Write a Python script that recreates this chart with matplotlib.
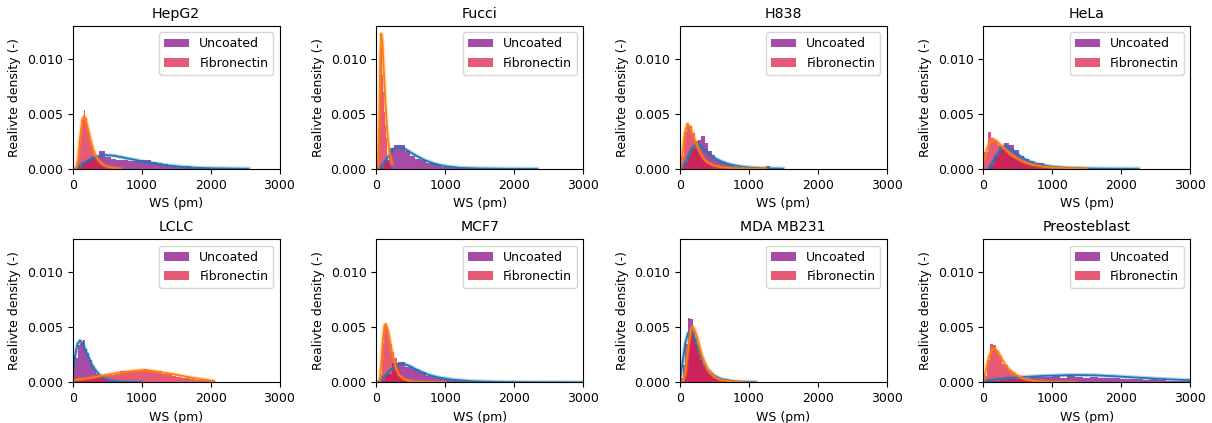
import numpy as np
import matplotlib
matplotlib.use('Agg')
from matplotlib import pyplot as plt

# cell lines, in plotting order
cells = ['HepG2', 'Fucci', 'H838', 'HeLa', 'LCLC', 'MCF7', 'MDA MB231', 'Preosteblast']

# data range (min, max WS in pm) of each histogram, 30 bins over it
unc_range = {'HepG2': (50, 2550), 'Fucci': (30, 2335), 'H838': (15, 1500), 'HeLa': (78, 2250),
             'LCLC': (10, 1000), 'MCF7': (24, 3000), 'MDA MB231': (5, 1107), 'Preosteblast': (15, 3300)}
fib_range = {'HepG2': (50, 710), 'Fucci': (20, 230), 'H838': (15, 1250), 'HeLa': (10, 1500),
             'LCLC': (0, 2050), 'MCF7': (48, 975), 'MDA MB231': (40, 960), 'Preosteblast': (5, 1350)}

# histogram densities (30 bins)
unc_hist = {
    'HepG2': [0.00015, 0.0006, 0.0009, 0.0011, 0.0016, 0.0011, 0.0009, 0.00085, 0.0008, 0.0007,
              0.0007, 0.00085, 0.0008, 0.0006, 0.0005, 0.00042, 0.00035, 0.00022, 0.0002, 0.00027,
              0.0001, 0.00008, 0.00006, 0.00005, 0.00003, 0.00003, 0.00002, 0.00002, 0.0, 0.00002],
    'Fucci': [0.0002, 0.0008, 0.0019, 0.0022, 0.0022, 0.0016, 0.0012, 0.0009, 0.0008, 0.0005,
              0.0005, 0.0004, 0.0002, 0.00015, 0.0001, 0.00008, 0.00006, 0.00005, 0.00004, 0.00003,
              0.00002, 0.00002, 0.00002, 0.00001, 0.00001, 0.0, 0.00001, 0.0, 0.0, 0.00001],
    'H838': [0.0002, 0.0006, 0.0012, 0.0018, 0.0022, 0.0026, 0.0030, 0.0024, 0.0016, 0.0013,
             0.0009, 0.0007, 0.0006, 0.0005, 0.0004, 0.0003, 0.0002, 0.0003, 0.0001, 0.0001,
             0.00005, 0.00005, 0.0, 0.00003, 0.0, 0.00027, 0.0, 0.0, 0.0, 0.00003],
    'HeLa': [0.0004, 0.0012, 0.0020, 0.0024, 0.0022, 0.0017, 0.0012, 0.0009, 0.0007, 0.0005,
             0.0005, 0.0004, 0.0002, 0.0002, 0.00015, 0.0001, 0.0001, 0.00008, 0.00005, 0.00004,
             0.00003, 0.00002, 0.00002, 0.00001, 0.00001, 0.0, 0.00001, 0.0, 0.0, 0.00001],
    'LCLC': [0.0025, 0.0022, 0.0034, 0.0036, 0.0039, 0.0030, 0.0027, 0.0020, 0.0015, 0.0011,
             0.0008, 0.0006, 0.0005, 0.0004, 0.0003, 0.0002, 0.0002, 0.00015, 0.0001, 0.0001,
             0.00008, 0.00006, 0.00005, 0.00004, 0.00003, 0.00003, 0.00002, 0.00002, 0.00001, 0.00001],
    'MCF7': [0.0002, 0.0008, 0.0018, 0.0019, 0.0014, 0.0012, 0.0009, 0.0006, 0.0005, 0.0004,
             0.0003, 0.00025, 0.0002, 0.00015, 0.0001, 0.0001, 0.00006, 0.00005, 0.00004, 0.00003,
             0.00002, 0.00002, 0.00001, 0.00001, 0.00001, 0.0, 0.0, 0.0, 0.0, 0.00001],
    'MDA MB231': [0.0004, 0.0016, 0.0035, 0.0059, 0.0058, 0.0045, 0.0035, 0.0026, 0.0020, 0.0015,
                  0.0011, 0.0008, 0.0006, 0.0005, 0.0004, 0.0003, 0.0002, 0.00015, 0.0001, 0.0001,
                  0.00008, 0.00006, 0.00005, 0.00004, 0.00003, 0.00002, 0.00002, 0.00001, 0.00001, 0.00001],
    'Preosteblast': [0.0001, 0.00015, 0.00025, 0.0003, 0.00035, 0.0004, 0.00045, 0.0005, 0.0005, 0.00055,
                     0.0004, 0.0006, 0.0005, 0.0004, 0.0005, 0.0004, 0.0004, 0.0004, 0.00035, 0.0003,
                     0.0003, 0.00025, 0.0003, 0.00025, 0.00015, 0.00015, 0.00015, 0.0001, 0.0001, 0.0001],
}
fib_hist = {
    'HepG2': [0.0003, 0.0012, 0.0026, 0.0038, 0.0045, 0.0054, 0.0046, 0.0040, 0.0034, 0.0027,
              0.0021, 0.0016, 0.0012, 0.0009, 0.0007, 0.0005, 0.0004, 0.0003, 0.00025, 0.0002,
              0.00015, 0.0001, 0.0001, 0.00008, 0.00006, 0.00005, 0.00004, 0.00003, 0.00002, 0.00002],
    'Fucci': [0.0005, 0.0015, 0.003, 0.0055, 0.0075, 0.0085, 0.0090, 0.0110, 0.0100, 0.0095,
              0.0085, 0.0080, 0.0070, 0.0060, 0.0052, 0.0045, 0.0040, 0.0032, 0.0028, 0.0022,
              0.0010, 0.0008, 0.0006, 0.0005, 0.0004, 0.0003, 0.0003, 0.0002, 0.0002, 0.0001],
    'H838': [0.0012, 0.0034, 0.0040, 0.0039, 0.0033, 0.0025, 0.0018, 0.0012, 0.0009, 0.0007,
             0.0005, 0.0004, 0.0003, 0.00025, 0.0002, 0.00015, 0.0001, 0.0001, 0.00008, 0.00006,
             0.00005, 0.00004, 0.00003, 0.00003, 0.00002, 0.00002, 0.00001, 0.00001, 0.0, 0.00001],
    'HeLa': [0.0015, 0.0034, 0.0028, 0.0025, 0.0022, 0.0020, 0.0017, 0.0013, 0.0011, 0.0009,
             0.0007, 0.0006, 0.0005, 0.0004, 0.0003, 0.00025, 0.0002, 0.00015, 0.0001, 0.0001,
             0.00008, 0.00006, 0.00005, 0.00004, 0.00003, 0.00003, 0.00002, 0.00002, 0.00001, 0.00001],
    'LCLC': [0.0001, 0.0002, 0.0003, 0.0005, 0.0004, 0.0005, 0.0006, 0.0007, 0.0007, 0.0008,
             0.0010, 0.0009, 0.0010, 0.0011, 0.0010, 0.0012, 0.0010, 0.0009, 0.0010, 0.0008,
             0.0008, 0.0006, 0.0005, 0.0004, 0.0004, 0.0003, 0.0002, 0.0002, 0.0001, 0.0001],
    'MCF7': [0.0008, 0.0036, 0.0053, 0.0050, 0.0042, 0.0035, 0.0028, 0.0022, 0.0014, 0.0009,
             0.0006, 0.0004, 0.0003, 0.0002, 0.0002, 0.00015, 0.0001, 0.0001, 0.00008, 0.00006,
             0.00005, 0.00004, 0.00003, 0.00003, 0.00002, 0.00002, 0.00001, 0.00001, 0.00001, 0.00001],
    'MDA MB231': [0.0003, 0.0012, 0.0030, 0.0045, 0.0050, 0.0048, 0.0041, 0.0034, 0.0027, 0.0021,
                  0.0017, 0.0013, 0.0010, 0.0008, 0.0006, 0.0005, 0.0004, 0.0003, 0.0002, 0.0002,
                  0.00015, 0.0001, 0.0001, 0.00008, 0.0002, 0.00005, 0.00004, 0.00003, 0.00002, 0.00001],
    'Preosteblast': [0.0006, 0.0020, 0.0035, 0.0034, 0.0029, 0.0024, 0.0017, 0.0016, 0.0011, 0.0009,
                     0.0007, 0.0005, 0.0004, 0.0003, 0.0002, 0.0002, 0.00015, 0.0001, 0.0001, 0.00008,
                     0.00006, 0.00005, 0.00004, 0.00003, 0.00003, 0.00002, 0.00002, 0.00001, 0.00001, 0.00001],
}

# fitted curves, points (x in pm, density)
unc_fit_x = {
    'HepG2': [40, 150, 320, 470, 600, 800, 1000, 1200, 1400, 1600, 1800, 2000, 2300, 2550],
    'Fucci': [30, 100, 180, 250, 320, 420, 550, 700, 850, 1000, 1200, 1500, 1900, 2335],
    'H838': [20, 100, 170, 240, 300, 400, 500, 600, 700, 850, 1000, 1200, 1500],
    'HeLa': [78, 170, 260, 310, 400, 500, 600, 700, 850, 1000, 1200, 1500, 1800, 2250],
    'LCLC': [10, 40, 70, 105, 140, 180, 230, 280, 330, 400, 500, 600, 800, 1000],
    'MCF7': [24, 100, 200, 300, 380, 480, 600, 750, 900, 1100, 1400, 1800, 2300, 3000],
    'MDA MB231': [5, 40, 80, 120, 160, 200, 250, 300, 350, 400, 500, 600, 800, 1107],
    'Preosteblast': [15, 100, 300, 600, 900, 1300, 1600, 1900, 2200, 2500, 2800, 3000],
}
unc_fit_y = {
    'HepG2': [0.0, 0.0005, 0.0011, 0.00125, 0.0012, 0.00095, 0.0007, 0.00048, 0.0003, 0.00018,
              0.0001, 0.00006, 0.00003, 0.00001],
    'Fucci': [0.0, 0.0004, 0.0012, 0.0018, 0.0020, 0.0018, 0.0013, 0.0008, 0.00045, 0.00025,
              0.0001, 0.00004, 0.00001, 0.0],
    'H838': [0.0, 0.0008, 0.0018, 0.0023, 0.0021, 0.0015, 0.0010, 0.00068, 0.00045, 0.00025,
             0.00013, 0.00006, 0.00002],
    'HeLa': [0.0, 0.0010, 0.0019, 0.0021, 0.0018, 0.0013, 0.0009, 0.0006, 0.00035, 0.0002,
             0.0001, 0.00004, 0.00002, 0.00001],
    'LCLC': [0.0012, 0.0026, 0.0035, 0.0038, 0.0036, 0.0030, 0.0023, 0.0016, 0.0011, 0.0006,
             0.00025, 0.0001, 0.00003, 0.00001],
    'MCF7': [0.0, 0.0004, 0.0011, 0.0016, 0.0017, 0.0015, 0.0011, 0.0007, 0.00045, 0.00025,
             0.0001, 0.00004, 0.00001, 0.0],
    'MDA MB231': [0.0003, 0.0018, 0.0036, 0.0045, 0.0047, 0.0043, 0.0034, 0.0025, 0.0018, 0.0012,
                  0.0006, 0.0003, 0.00007, 0.00001],
    'Preosteblast': [0.0001, 0.0002, 0.00035, 0.0005, 0.0006, 0.00067, 0.00065, 0.00056, 0.00045,
                     0.00034, 0.00025, 0.0002],
}
fib_fit_x = {
    'HepG2': [50, 80, 110, 140, 165, 190, 220, 260, 300, 350, 400, 450, 500, 600, 700],
    'Fucci': [20, 45, 60, 72, 90, 110, 130, 160, 190, 230],
    'H838': [15, 40, 70, 110, 150, 200, 250, 300, 350, 400, 500, 600, 800, 1000, 1250],
    'HeLa': [10, 50, 90, 140, 200, 260, 330, 400, 500, 600, 700, 850, 1000, 1200, 1500],
    'LCLC': [0, 150, 300, 500, 700, 900, 1000, 1150, 1300, 1500, 1700, 1850, 2050],
    'MCF7': [48, 70, 95, 120, 140, 170, 200, 240, 280, 330, 400, 500, 700, 975],
    'MDA MB231': [40, 80, 120, 160, 185, 220, 260, 300, 350, 400, 500, 600, 750, 960],
    'Preosteblast': [5, 40, 80, 120, 160, 210, 260, 320, 400, 500, 600, 750, 950, 1350],
}
fib_fit_y = {
    'HepG2': [0.0, 0.0010, 0.0030, 0.0045, 0.0048, 0.0045, 0.0037, 0.0026, 0.0017, 0.0010,
              0.0006, 0.00035, 0.0002, 0.00008, 0.00003],
    'Fucci': [0.0, 0.005, 0.0105, 0.0123, 0.0115, 0.0088, 0.0062, 0.0033, 0.0015, 0.0005],
    'H838': [0.0, 0.0015, 0.0032, 0.0041, 0.0038, 0.0030, 0.0021, 0.0014, 0.0009, 0.0006,
             0.0003, 0.00015, 0.00005, 0.00002, 0.00001],
    'HeLa': [0.0008, 0.0018, 0.0024, 0.0027, 0.0025, 0.0021, 0.0017, 0.0013, 0.0009, 0.0006,
             0.0004, 0.00022, 0.00012, 0.00006, 0.00002],
    'LCLC': [0.0002, 0.0003, 0.00045, 0.0007, 0.0009, 0.00105, 0.0011, 0.00105, 0.0009, 0.0007,
             0.00045, 0.0003, 0.00012],
    'MCF7': [0.0, 0.0015, 0.0038, 0.0052, 0.0053, 0.0047, 0.0037, 0.0024, 0.0014, 0.0007,
             0.0003, 0.0001, 0.00002, 0.0],
    'MDA MB231': [0.0, 0.0008, 0.0030, 0.0048, 0.0051, 0.0047, 0.0039, 0.0029, 0.0019, 0.0012,
                  0.0005, 0.0002, 0.00006, 0.00001],
    'Preosteblast': [0.0002, 0.0012, 0.0023, 0.0029, 0.0031, 0.0028, 0.0022, 0.0016, 0.0010,
                     0.0006, 0.0003, 0.00012, 0.00004, 0.0],
}

fig, axes = plt.subplots(2, 4, figsize=(12.12, 4.23), dpi=100)
fig.subplots_adjust(left=0.060, right=0.982, top=0.9385, bottom=0.096, wspace=0.468, hspace=0.494)

for ax, name in zip(axes.flat, cells):
    for hist, rng, col, lab in [(unc_hist, unc_range, 'purple', 'Uncoated'),
                                (fib_hist, fib_range, 'crimson', 'Fibronectin')]:
        h = np.array(hist[name])
        edges = np.linspace(rng[name][0], rng[name][1], len(h) + 1)
        centers = (edges[:-1] + edges[1:]) / 2
        ax.hist(centers, bins=edges, weights=h, color=col, alpha=0.7, label=lab)
    for fx, fy, col in [(unc_fit_x, unc_fit_y, '#1f77b4'), (fib_fit_x, fib_fit_y, '#ff7f0e')]:
        ax.plot(fx[name], fy[name], color=col, lw=3, alpha=0.3)
        ax.plot(fx[name], fy[name], color=col, lw=1.3)
    ax.set_xlim(0, 3000)
    ax.set_ylim(0, 0.013)
    ax.set_xticks([0, 1000, 2000, 3000])
    ax.set_yticks([0, 0.005, 0.010])
    ax.set_yticklabels(['0.000', '0.005', '0.010'])
    ax.tick_params(labelsize=9)
    ax.set_title(name, fontsize=10.2)
    ax.set_xlabel('WS (pm)', fontsize=9)
    ax.set_ylabel('Realivte density (-)', fontsize=9)
    ax.legend(loc='upper right', fontsize=9)

plt.savefig('out.png', dpi=100)
